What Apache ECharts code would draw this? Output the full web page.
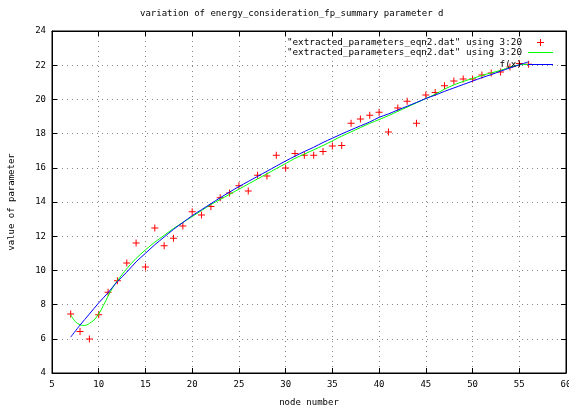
<!DOCTYPE html>
<html>
<head>
<meta charset="utf-8">
<script src="https://cdn.jsdelivr.net/npm/echarts@6/dist/echarts.min.js"></script>
<style>html,body{margin:0;padding:0;background:#fff}#c{width:569px;height:410px}</style>
</head>
<body>
<div id="c"></div>
<script>
var titleText = 'variation of energy_consideration_fp_summary parameter d';
var xName = 'node number';
var yName = 'value of parameter';
var dataLabel = '"extracted_parameters_eqn2.dat" using 3:20';
var fitLabel = 'f(x)';

var nodes = [7,8,9,10,11,12,13,14,15,16,17,18,19,20,21,22,23,24,25,26,27,28,29,30,31,32,33,34,35,36,37,38,39,40,41,42,43,44,45,46,47,48,49,50,51,52,53,54,55,56];
var measured = [7.45,6.42,5.99,7.4,8.72,9.4,10.43,11.6,10.2,12.48,11.44,11.88,12.6,13.43,13.24,13.73,14.25,14.53,14.95,14.64,15.56,15.52,16.73,15.99,16.83,16.73,16.73,16.96,17.27,17.31,18.6,18.85,19.07,19.25,18.1,19.5,19.89,18.6,20.26,20.4,20.8,21.08,21.19,21.19,21.43,21.54,21.6,21.9,22.1,22.05];
var fitValues = [6.1,6.8,7.45,8.1,8.7,9.35,9.9,10.5,11.0,11.5,11.95,12.4,12.8,13.2,13.55,13.9,14.25,14.58,14.9,15.2,15.5,15.8,16.1,16.4,16.68,16.95,17.2,17.48,17.73,17.98,18.22,18.45,18.68,18.95,19.15,19.38,19.6,19.82,20.05,20.25,20.47,20.67,20.87,21.07,21.27,21.45,21.65,21.84,22.02,22.2];
var smoothX = [7,7.5,8,8.5,9,9.5,10,10.5,11,11.5,12,13,14,15,16,17,18,19,20,21,22,23,24,25,26,27,28,29,30,31,32,33,34,35,36,37,38,39,40,41,42,43,44,45,46,47,48,49,50,51,52,53,54,55,56];
var smoothY = [7.4,7.0,6.82,6.78,6.9,7.1,7.45,7.95,8.5,9.0,9.4,10.1,10.7,11.2,11.65,12.05,12.45,12.8,13.15,13.5,13.85,14.15,14.45,14.75,15.05,15.35,15.65,15.95,16.25,16.55,16.8,17.05,17.3,17.58,17.85,18.1,18.35,18.6,18.82,19.05,19.3,19.55,19.8,20.05,20.3,20.6,20.85,21.05,21.22,21.4,21.55,21.7,21.88,22.02,22.05];
var xTicks = {min: 5, max: 60, interval: 5};
var yTicks = {min: 4, max: 24, interval: 2};

function zip(a, b) { return a.map(function (v, i) { return [v, b[i]]; }); }

var FONT = 'DejaVu Sans Mono';
var plus = 'path://M3,0h1v3h3v1h-3v3h-1v-3h-3v-1h3z';
var lineIcon = 'path://M0,0h25v1h-25z';
var labelNames = {s1: dataLabel, s2: dataLabel, s3: fitLabel};

function mkLegend(item, top, iw, ih, right, padR) {
  return {
    data: [item], right: right, top: top, orient: 'vertical', align: 'right',
    itemWidth: iw, itemHeight: ih, itemGap: 0, padding: 0, selectedMode: false,
    textStyle: {fontFamily: FONT, fontSize: 9.3, color: '#000', padding: [0, padR, 0, 0]},
    formatter: function (n) { return labelNames[n]; }
  };
}

var split = {show: true, lineStyle: {color: '#888', type: [1, 4], width: 1}};
var axBase = {
  axisLine: {show: true, lineStyle: {color: '#000', width: 1}},
  axisTick: {show: true, inside: true, length: 5, lineStyle: {color: '#000'}},
  axisLabel: {fontFamily: FONT, fontSize: 9, color: '#000'}
};

var chart = echarts.init(document.getElementById('c'), null, {renderer: 'canvas'});
chart.setOption({
  animation: false,
  backgroundColor: '#fff',
  title: {text: titleText, left: 140, top: 9, padding: 0,
    textStyle: {fontFamily: FONT, fontSize: 9, fontWeight: 'normal', color: '#000'}},
  legend: [
    mkLegend({name: 's1', icon: plus, itemStyle: {color: '#ff0000'}}, 38, 7, 7, 25, 10),
    mkLegend({name: 's2', icon: lineIcon, itemStyle: {color: '#00ff00'}}, 48, 25, 10, 16, 1),
    mkLegend({name: 's3', icon: lineIcon, itemStyle: {color: '#0000ff'}}, 60, 25, 10, 16, 1)
  ],
  grid: {left: 52, right: 3, top: 31, bottom: 37, show: true, borderColor: '#000', borderWidth: 1,
    containLabel: false, outerBoundsMode: 'none'},
  xAxis: [
    Object.assign({}, axBase, {type: 'value', min: xTicks.min, max: xTicks.max, interval: xTicks.interval,
      name: xName, nameLocation: 'middle', nameGap: 25,
      nameTextStyle: {fontFamily: FONT, fontSize: 9, color: '#000'},
      splitLine: split, axisLabel: {fontFamily: FONT, fontSize: 9, color: '#000', margin: 7}}),
    Object.assign({}, axBase, {type: 'value', position: 'top', min: xTicks.min, max: xTicks.max, interval: xTicks.interval,
      axisLabel: {show: false}, splitLine: {show: false}})
  ],
  yAxis: [
    Object.assign({}, axBase, {type: 'value', min: yTicks.min, max: yTicks.max, interval: yTicks.interval,
      name: yName, nameLocation: 'middle', nameGap: 36,
      nameTextStyle: {fontFamily: FONT, fontSize: 9, color: '#000'},
      splitLine: split, axisLabel: {fontFamily: FONT, fontSize: 9, color: '#000', margin: 6}}),
    Object.assign({}, axBase, {type: 'value', position: 'right', min: yTicks.min, max: yTicks.max, interval: yTicks.interval,
      axisLabel: {show: false}, splitLine: {show: false}})
  ],
  series: [
    {name: 's1', type: 'scatter', data: zip(nodes, measured), symbol: plus, symbolSize: 7,
      itemStyle: {color: '#ff0000', opacity: 1}},
    {name: 's2', type: 'line', data: zip(smoothX, smoothY), symbol: 'none', smooth: 0.3,
      lineStyle: {color: '#00ff00', width: 1}, itemStyle: {color: '#00ff00'}},
    {name: 's3', type: 'line', data: zip(nodes, fitValues), symbol: 'none', smooth: 0.3,
      lineStyle: {color: '#0000ff', width: 1}, itemStyle: {color: '#0000ff'}}
  ]
});
</script>
</body>
</html>
